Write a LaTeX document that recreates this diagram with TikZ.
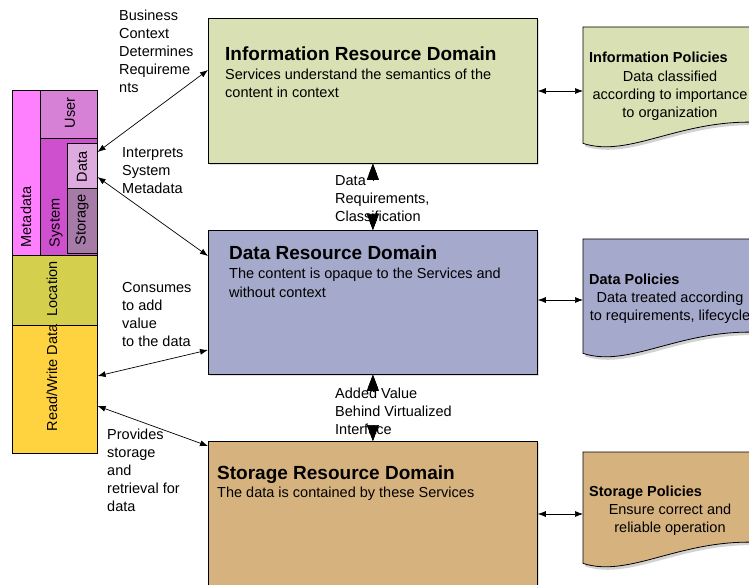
\documentclass[tikz,border=0pt]{standalone}
\usepackage{fontspec}
\setmainfont{Liberation Sans}
\usetikzlibrary{arrows.meta,calc,shadows}
\definecolor{metac}{HTML}{FF80FF}
\definecolor{userc}{HTML}{D680D6}
\definecolor{sysc}{HTML}{CF50CF}
\definecolor{datac}{HTML}{DDABDD}
\definecolor{storc}{HTML}{A77BA7}
\definecolor{locc}{HTML}{D4D04E}
\definecolor{rwc}{HTML}{FFD340}
\definecolor{infoc}{HTML}{D9E0B3}
\definecolor{dataf}{HTML}{A5A9CB}
\definecolor{storf}{HTML}{D6B27E}
\tikzset{
  txt/.style={font=\fontsize{14.5}{18}\selectfont},
  lbl/.style={txt, align=left, anchor=north west, inner sep=0pt},
  stackbox/.style={draw=black, line width=0.6pt, anchor=north west, inner sep=0pt},
  vtext/.style={txt, rotate=90, inner sep=0pt},
  dombox/.style={draw=black, line width=0.8pt, anchor=north west, minimum width=329pt,
    drop shadow={shadow xshift=2pt, shadow yshift=-2pt, opacity=0.25}},
  dtitle/.style={font=\fontsize{19}{22}\selectfont\bfseries, anchor=base west, inner sep=0pt},
  dsub/.style={txt, align=left, anchor=base west, inner sep=0pt},
  polnode/.style={anchor=north west, minimum width=177pt, inner sep=0pt},
  polstyle/.style={draw=black, line width=0.8pt,
    drop shadow={shadow xshift=2pt, shadow yshift=-3pt, opacity=0.35}},
  ptitle/.style={font=\fontsize{14.5}{18}\selectfont\bfseries, anchor=base west, inner sep=0pt},
  ptext/.style={txt, align=center, anchor=base, inner sep=0pt},
  conn/.style={{Latex[length=8pt,width=6pt]}-{Latex[length=8pt,width=6pt]}, line width=0.7pt},
  vconn/.style={{Triangle[length=16pt,width=12pt]}-{Triangle[length=16pt,width=12pt]}, line width=0.7pt},
  vhead/.style={-{Triangle[length=16pt,width=12pt]}, line width=0.7pt},
}
\newcommand\polshape[2]{%
  \draw[polstyle, fill=#2] (#1.north west) -- (#1.north east) -- ($(#1.south east)+(0,-21)$)
    .. controls ($(#1.south west)+(97,-25)$) and ($(#1.south west)+(47,15)$) .. (#1.south west) -- cycle;}
\begin{document}
\begin{tikzpicture}[x=1pt,y=-1pt]
\useasboundingbox (0,0) rectangle (749,585);
\clip (0,0) rectangle (749,585);
\fill[white] (0,0) rectangle (749,585);

% left stack
\node[stackbox, fill=metac, minimum width=28pt, minimum height=165pt] (meta) at (12,90) {};
\node[stackbox, fill=userc, minimum width=57pt, minimum height=48pt] (user) at (40,90) {};
\node[stackbox, fill=sysc, minimum width=57pt, minimum height=117pt] (sys) at (40,138) {};
\node[stackbox, fill=datac, minimum width=30pt, minimum height=45pt] (datam) at (67,143) {};
\node[stackbox, fill=storc, minimum width=30pt, minimum height=65pt] (storm) at (67,188) {};
\node[stackbox, fill=locc, minimum width=85pt, minimum height=70pt] (loc) at (12,255) {};
\node[stackbox, fill=rwc, minimum width=85pt, minimum height=128pt] (rw) at (12,325) {};
\draw[line width=0.8pt] (12,90) rectangle (97,453);

\node[vtext] (metat) at (26,217) {Metadata};
\node[vtext] (usert) at (70,113) {User};
\node[vtext] (syst) at (56,223) {System};
\node[vtext] (datat) at (82,167) {Data};
\node[vtext] (stort) at (82,220) {Storage};
\node[vtext] (loct) at (52,289) {Location};
\node[vtext] (rwt) at (52,378) {Read/Write Data};

% domains
\node[dombox, fill=infoc, minimum height=145pt] (info) at (208,18) {};
\node[dombox, fill=dataf, minimum height=144pt] (data) at (208,230) {};
\node[dombox, fill=storf, minimum height=160pt] (storage) at (208,441) {};

\node[dtitle] (infot) at (225,61) {Information Resource Domain};
\node[dsub] (infos) at (225,98) {Services understand the semantics of the\\content in context};
\node[dtitle] (datat2) at (229,260) {Data Resource Domain};
\node[dsub] (datas) at (229,297) {The content is opaque to the Services and\\without context};
\node[dtitle] (stort2) at (217,479) {Storage Resource Domain};
\node[dsub] (stors) at (217,497) {The data is contained by these Services};

% policies
\node[polnode, minimum height=116pt] (ipol) at (583,27) {};
\node[polnode, minimum height=114pt] (dpol) at (583,239) {};
\node[polnode, minimum height=111pt] (spol) at (583,452) {};
\polshape{ipol}{infoc}
\polshape{dpol}{dataf}
\polshape{spol}{storf}

\node[ptitle] (ipt) at (589,63) {Information Policies};
\node[ptext] (ipx) at (670,118) {Data classified\\according to importance\\to organization};
\node[ptitle] (dpt) at (589,284) {Data Policies};
\node[ptext] (dpx) at (670,320) {Data treated according\\to requirements, lifecycle};
\node[ptitle] (spt) at (589,496) {Storage Policies};
\node[ptext] (spx) at (670,532) {Ensure correct and\\reliable operation};

% domain-policy connectors
\draw[conn] ($(info.north east)+(0,73)$) coordinate (ia) -- (ia -| ipol.west);
\draw[conn] ($(data.north east)+(0,70)$) coordinate (da) -- (da -| dpol.west);
\draw[conn] ($(storage.north east)+(0,73)$) coordinate (sa) -- (sa -| spol.west);

% stack-domain connectors
\draw[conn] ($(info.north west)+(0,52)$) -- ($(datam.north east)+(0,9)$);
\draw[conn] ($(data.north west)+(0,26)$) -- ($(datam.north east)+(0,34)$);
\draw[conn] ($(data.north west)+(0,120)$) -- ($(rw.north east)+(0,51)$);
\draw[conn] ($(storage.north west)+(0,5)$) -- ($(rw.north east)+(0,81)$);

% labels
\node[lbl] (l1) at (119,10) {Business\\Context\\Determines\\Requireme\\nts};
\node[lbl] (l2) at (122,147) {Interprets\\System\\Metadata};
\node[lbl] (l3) at (122,282) {Consumes\\to add\\value\\to the data};
\node[lbl] (l4) at (107,429) {Provides\\storage\\and\\retrieval for\\data};

% vertical connectors
\draw[vconn] (info.south) -- (data.north);
\node[lbl, fill=white] (l5) at (335,175) {Data\\Requirements,\\Classification};
\draw[vhead] ($(info.south)+(0,16)$) -- (info.south);
\draw[vhead] ($(data.north)+(0,-16)$) -- (data.north);

\draw[vconn] (data.south) -- (storage.north);
\node[lbl, fill=white] (l6) at (335,388) {Added Value\\Behind Virtualized\\Interface};
\draw[vhead] ($(data.south)+(0,16)$) -- (data.south);
\draw[vhead] ($(storage.north)+(0,-16)$) -- (storage.north);
\end{tikzpicture}
\end{document}
